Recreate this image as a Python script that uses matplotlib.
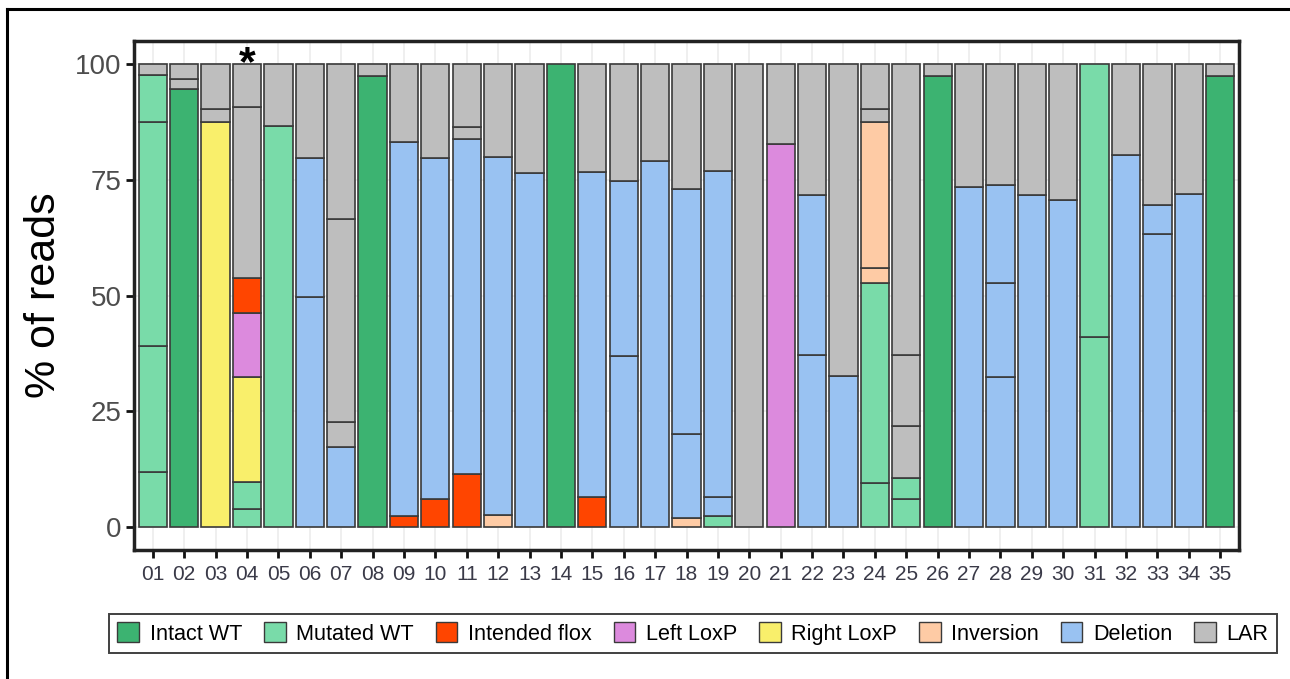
import matplotlib
matplotlib.use("Agg")
import matplotlib.pyplot as plt
from matplotlib.patches import Patch
from matplotlib.lines import Line2D

plt.rcParams['font.family'] = ['Liberation Sans', 'DejaVu Sans']

samples = ["01", "02", "03", "04", "05", "06", "07", "08", "09", "10",
           "11", "12", "13", "14", "15", "16", "17", "18", "19", "20",
           "21", "22", "23", "24", "25", "26", "27", "28", "29", "30",
           "31", "32", "33", "34", "35"]

categories = ["Intact WT", "Mutated WT", "Intended flox", "Left LoxP",
              "Right LoxP", "Inversion", "Deletion", "LAR"]
colors = ["#3CB371", "#79DBA9", "#FF4500", "#DC8ADD",
          "#F9EF6B", "#FECBA5", "#99C2F2", "#BEBEBE"]

# segment categories per sample (bottom to top)
seg_cats = [
    ["Mutated WT", "Mutated WT", "Mutated WT", "Mutated WT", "LAR"],
    ["Intact WT", "LAR", "LAR"],
    ["Right LoxP", "LAR", "LAR"],
    ["Mutated WT", "Mutated WT", "Right LoxP", "Left LoxP", "Intended flox", "LAR", "LAR"],
    ["Mutated WT", "LAR"],
    ["Deletion", "Deletion", "LAR"],
    ["Deletion", "LAR", "LAR", "LAR"],
    ["Intact WT", "LAR"],
    ["Intended flox", "Deletion", "LAR"],
    ["Intended flox", "Deletion", "LAR"],
    ["Intended flox", "Deletion", "LAR", "LAR"],
    ["Inversion", "Deletion", "LAR"],
    ["Deletion", "LAR"],
    ["Intact WT"],
    ["Intended flox", "Deletion", "LAR"],
    ["Deletion", "Deletion", "LAR"],
    ["Deletion", "LAR"],
    ["Inversion", "Deletion", "Deletion", "LAR"],
    ["Mutated WT", "Deletion", "Deletion", "LAR"],
    ["LAR"],
    ["Left LoxP", "LAR"],
    ["Deletion", "Deletion", "LAR"],
    ["Deletion", "LAR"],
    ["Mutated WT", "Mutated WT", "Inversion", "Inversion", "LAR", "LAR"],
    ["Mutated WT", "Mutated WT", "LAR", "LAR", "LAR"],
    ["Intact WT", "LAR"],
    ["Deletion", "LAR"],
    ["Deletion", "Deletion", "Deletion", "LAR"],
    ["Deletion", "LAR"],
    ["Deletion", "LAR"],
    ["Mutated WT", "Mutated WT"],
    ["Deletion", "LAR"],
    ["Deletion", "Deletion", "LAR"],
    ["Deletion", "LAR"],
    ["Intact WT", "LAR"],
]

# cumulative upper bounds (% of reads) of each segment
seg_tops = [
    [11.8, 39.1, 87.4, 97.7, 100],
    [94.7, 96.7, 100],
    [87.6, 90.2, 100],
    [3.8, 9.6, 32.4, 46.3, 53.7, 90.7, 100],
    [86.7, 100],
    [49.7, 79.7, 100],
    [17.3, 22.7, 66.5, 100],
    [97.4, 100],
    [2.3, 83.1, 100],
    [6.1, 79.8, 100],
    [11.4, 83.8, 86.4, 100],
    [2.5, 80.0, 100],
    [76.4, 100],
    [100],
    [6.4, 76.7, 100],
    [37.0, 74.7, 100],
    [79.1, 100],
    [2.0, 20.0, 73.0, 100],
    [2.3, 6.5, 76.8, 100],
    [100],
    [82.7, 100],
    [37.2, 71.8, 100],
    [32.6, 100],
    [9.5, 52.6, 56.0, 87.6, 90.3, 100],
    [6.1, 10.6, 21.8, 37.1, 100],
    [97.4, 100],
    [73.4, 100],
    [32.4, 52.6, 73.8, 100],
    [71.8, 100],
    [70.7, 100],
    [41.0, 100],
    [80.3, 100],
    [63.3, 69.5, 100],
    [71.9, 100],
    [97.4, 100],
]

flagged_sample = "04"
y_ticks = [0, 25, 50, 75, 100]

color_of = dict(zip(categories, colors))

fig = plt.figure(figsize=(12.9, 6.79), dpi=100)
ax = fig.add_axes([134 / 1290, 1 - 550 / 679, (1239 - 134) / 1290, (550 - 41) / 679])

xpos = list(range(1, len(samples) + 1))
for x, cats, tops in zip(xpos, seg_cats, seg_tops):
    bottom = 0.0
    for c, t in zip(cats, tops):
        ax.bar(x, t - bottom, bottom=bottom, width=0.9, color=color_of[c],
               edgecolor="#3a3a3a", linewidth=1.2, zorder=3)
        bottom = t

ax.set_xlim(0.4, len(samples) + 0.6)
ax.set_ylim(-5, 105)
ax.set_xticks(xpos)
ax.set_xticklabels(samples)
ax.set_yticks(y_ticks)
ax.grid(True, color="#EBEBEB", linewidth=1.1, zorder=0)
ax.set_axisbelow(True)

for s in ax.spines.values():
    s.set_linewidth(2.5)
    s.set_color("#222222")

ax.tick_params(axis="x", length=6, width=2.0, color="#111111",
               labelsize=15, labelcolor="#3a3a48", pad=5)
ax.tick_params(axis="y", length=6, width=2.0, color="#111111",
               labelsize=20, labelcolor="#4D4D4D", pad=3)
ax.set_ylabel("% of reads", fontsize=31, color="black", labelpad=8)

fi = samples.index(flagged_sample) + 1
ax.text(fi, 97.6, "*", ha="center", va="baseline", fontsize=31,
        fontweight="bold", color="black", zorder=5)

handles = [Patch(facecolor=col, edgecolor="#3a3a3a", linewidth=1.0, label=cat)
           for cat, col in zip(categories, colors)]
leg = fig.legend(handles=handles, loc="center", ncol=8,
                 bbox_to_anchor=(693 / 1290, 1 - 633.5 / 679),
                 fontsize=15.6, frameon=True, fancybox=False,
                 handlelength=1.0, handleheight=1.0, handletextpad=0.5,
                 columnspacing=1.0, borderpad=0.4)
leg.get_frame().set_edgecolor("#111111")
leg.get_frame().set_linewidth(1.4)

# outer frame (top and left edges)
fig.add_artist(Line2D([7 / 1290, 1.0], [1 - 9 / 679, 1 - 9 / 679],
                      transform=fig.transFigure, color="black", linewidth=2.2))
fig.add_artist(Line2D([7 / 1290, 7 / 1290], [0.0, 1 - 9 / 679],
                      transform=fig.transFigure, color="black", linewidth=2.2))

fig.savefig("out.png", dpi=100, facecolor="white")
